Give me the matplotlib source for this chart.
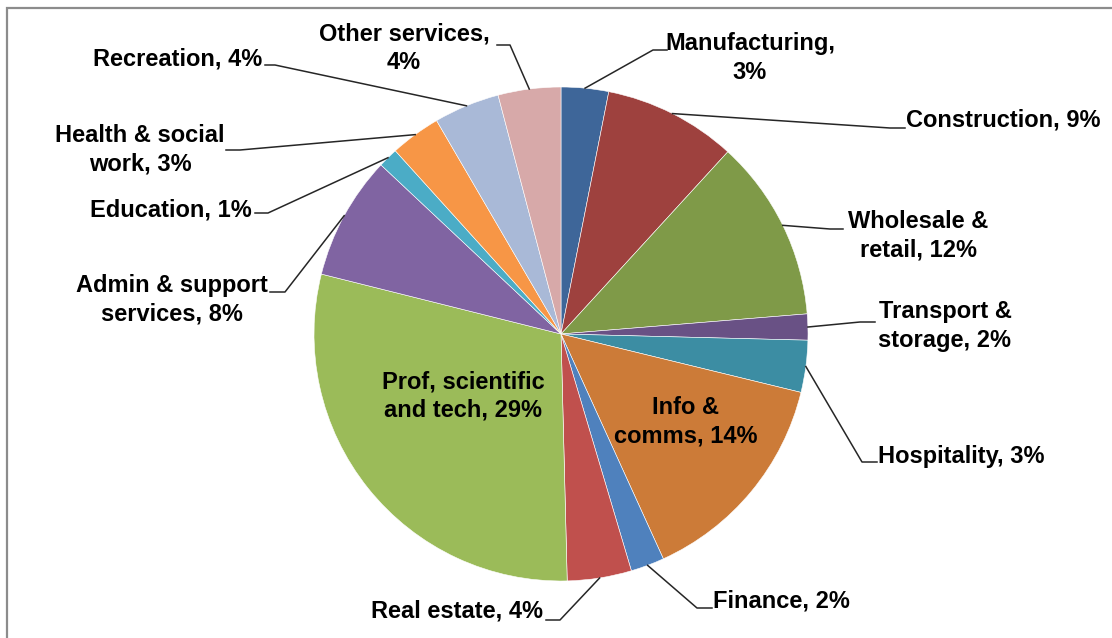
import matplotlib.pyplot as plt
from matplotlib.patches import Rectangle
import numpy as np

plt.rcParams['font.family'] = ['Liberation Sans', 'DejaVu Sans']

# 行业占比
names = ["Manufacturing", "Construction", "Wholesale &\nretail", "Transport &\nstorage",
         "Hospitality", "Info &\ncomms", "Finance", "Real estate",
         "Prof, scientific\nand tech", "Admin & support\nservices", "Education",
         "Health & social\nwork", "Recreation", "Other services"]
shares = [3.1, 8.7, 11.9, 1.7, 3.4, 14.4, 2.2, 4.2, 29.3, 8.1, 1.3, 3.3, 4.3, 4.1]
# 逗号后是否换行
break_after_comma = [True, False, False, False, False, False, False, False,
                     False, False, False, False, False, True]
colors = ["#3E6699", "#9E413E", "#7F9A48", "#695185", "#3C8DA3", "#CC7B38", "#4F81BD",
          "#C0504D", "#9BBB59", "#8064A2", "#4BACC6", "#F79646", "#A9B9D7", "#D7A9A9"]

H = 638
cx, cy, R = 561, H - 334, 247

# 标签位置 (x, y, ha) 以及引线拐点 (x_elbow, x_end, y_line)，像素坐标（y 从上往下）
label_pos = [(750, 58, 'center'), (906, 120, 'left'), (918, 236, 'center'),
             (945, 326, 'center'), (878, 457, 'left'), (686, 422, 'center'),
             (713, 601, 'left'), (543, 611, 'right'), (463, 396, 'center'),
             (172, 300, 'center'), (252, 210, 'right'), (140, 150, 'center'),
             (262, 59, 'right'), (404, 48, 'center')]
leaders = [(653, 667, 50), (890, 905, 128), (830, 843, 229), (860, 875, 322),
           (862, 877, 462), None, (697, 712, 608), (560, 546, 620), None,
           (285, 270, 292), (268, 255, 213), (240, 226, 150), (275, 265, 65),
           (510, 497, 45)]

fig = plt.figure(figsize=(11.12, 6.38), dpi=100)
ax = fig.add_axes([0, 0, 1, 1])

wedges, _ = ax.pie(shares, colors=colors, startangle=90, counterclock=False,
                   center=(cx, cy), radius=R,
                   wedgeprops=dict(edgecolor='white', linewidth=0.4))
ax.set_xlim(0, 1112)
ax.set_ylim(0, H)
ax.set_aspect('equal')
ax.axis('off')

for i, w in enumerate(wedges):
    sep = ",\n" if break_after_comma[i] else ", "
    txt = f"{names[i]}{sep}{round(shares[i])}%"
    x, y, ha = label_pos[i]
    ax.text(x, H - y, txt, ha=ha, va='center', multialignment='center',
            fontsize=17, fontweight='bold', color='black', linespacing=1.3)
    if leaders[i] is not None:
        ang = np.deg2rad((w.theta1 + w.theta2) / 2)
        px, py = cx + R * np.cos(ang), cy + R * np.sin(ang)
        xe, xt, yl = leaders[i]
        ax.plot([px, xe, xt], [py, H - yl, H - yl], color='#262626', lw=1.1)

# 外框
fig.patches.append(Rectangle((7, -20), 1200, H - 8 + 20, transform=None,
                             fill=False, edgecolor='#8c8c8c', linewidth=1.6))

fig.savefig('out.png', dpi=100)
